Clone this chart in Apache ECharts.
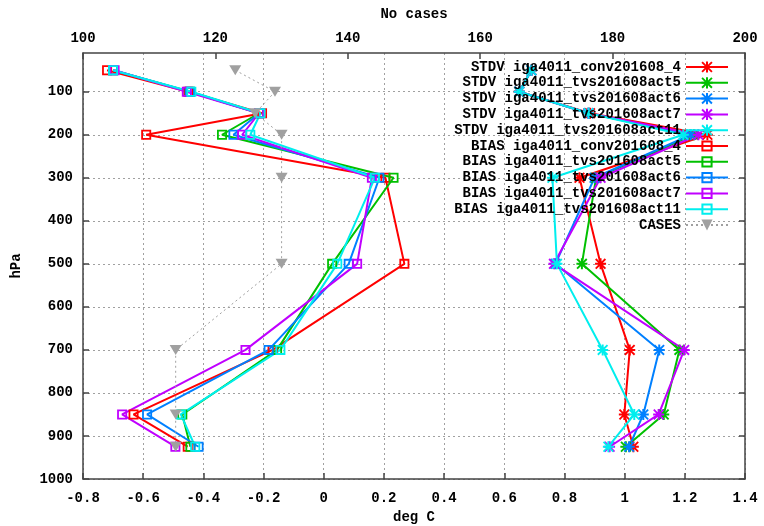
<!DOCTYPE html>
<html>
<head>
<meta charset="utf-8">
<script src="https://cdn.jsdelivr.net/npm/echarts@6/dist/echarts.min.js"></script>
<style>html,body{margin:0;padding:0;background:#fff}#c{width:764px;height:526px}</style>
</head>
<body>
<div id="c"></div>
<script>
// ---- data ----
const levels = [50, 100, 150, 200, 300, 500, 700, 850, 925];
const yTicks = [100, 200, 300, 400, 500, 600, 700, 800, 900, 1000];

const stdvConv4  = [0.69, 0.65, 0.885, 1.275, 0.85, 0.92, 1.017, 0.999, 1.029];
const stdvAct5   = [0.69, 0.65, 0.88, 1.23, 0.905, 0.858, 1.182, 1.13, 1.004];
const stdvAct6   = [0.69, 0.65, 0.88, 1.22, 0.90, 0.77, 1.115, 1.062, 1.015];
const stdvAct7   = [0.69, 0.65, 0.88, 1.245, 0.92, 0.765, 1.198, 1.113, 0.95];
const stdvAct11  = [0.69, 0.65, 0.88, 1.195, 0.76, 0.775, 0.927, 1.032, 0.946];

const biasConv4  = [-0.72, -0.45, -0.205, -0.59, 0.205, 0.268, -0.17, -0.632, -0.452];
const biasAct5   = [-0.70, -0.445, -0.215, -0.338, 0.232, 0.028, -0.155, -0.47, -0.443];
const biasAct6   = [-0.70, -0.445, -0.215, -0.30, 0.185, 0.083, -0.183, -0.587, -0.416];
const biasAct7   = [-0.695, -0.455, -0.215, -0.271, 0.16, 0.111, -0.26, -0.67, -0.493];
const biasAct11  = [-0.70, -0.44, -0.21, -0.244, 0.17, 0.045, -0.144, -0.475, -0.427];

const cases = [123, 129, 126, 130, 130, 130, 114, 114, 114];

const names = {
  stdv: ['STDV iga4011_conv201608_4', 'STDV iga4011_tvs201608act5', 'STDV iga4011_tvs201608act6', 'STDV iga4011_tvs201608act7', 'STDV iga4011_tvs201608act11'],
  bias: ['BIAS iga4011_conv201608_4', 'BIAS iga4011_tvs201608act5', 'BIAS iga4011_tvs201608act6', 'BIAS iga4011_tvs201608act7', 'BIAS iga4011_tvs201608act11'],
  cases: 'CASES'
};
const colors = ['#ff0000', '#00c000', '#0080ff', '#c000ff', '#00eeee'];
const casesColor = '#a0a0a0';

// ---- build ----
const FONT = 'Liberation Mono';
const star = 'path://M4.1,0H5.9V10H4.1Z M0,4.1H10V5.9H0Z M1.2,0L5,3.8L8.8,0L10,1.2L6.2,5L10,8.8L8.8,10L5,6.2L1.2,10L0,8.8L3.8,5L0,1.2Z';
const sq = 'path://M0,0H10V10H0Z M1.8,1.8V8.2H8.2V1.8Z';
const tri = 'path://M0,0H10L5,8.5Z';

function pairs(vals) { return vals.map((v, i) => [v, levels[i]]); }

const stdvVals = [stdvConv4, stdvAct5, stdvAct6, stdvAct7, stdvAct11];
const biasVals = [biasConv4, biasAct5, biasAct6, biasAct7, biasAct11];

const series = [];
stdvVals.forEach((vals, i) => series.push({
  name: names.stdv[i], type: 'line', xAxisIndex: 0, yAxisIndex: 0,
  data: pairs(vals), symbol: star, symbolSize: 11,
  lineStyle: { color: colors[i], width: 2 }, itemStyle: { color: colors[i] },
  animation: false
}));
biasVals.forEach((vals, i) => series.push({
  name: names.bias[i], type: 'line', xAxisIndex: 0, yAxisIndex: 0,
  data: pairs(vals), symbol: sq, symbolSize: 10,
  lineStyle: { color: colors[i], width: 2 }, itemStyle: { color: colors[i] },
  animation: false
}));
series.push({
  name: names.cases, type: 'line', xAxisIndex: 1, yAxisIndex: 0,
  data: cases.map((v, i) => [v, levels[i]]), symbol: tri, symbolSize: [12, 10],
  lineStyle: { color: casesColor, width: 1, type: [2, 3] }, itemStyle: { color: casesColor },
  animation: false
});

const labelStyle = { fontFamily: FONT, fontWeight: 'bold', fontSize: 14, color: '#000' };
const axisLineStyle = { color: '#444', width: 1.5 };
const gridLine = { show: true, lineStyle: { color: '#a0a0a0', width: 1, type: [2, 3] } };
const plain = v => String(v);

const option = {
  backgroundColor: '#fff',
  animation: false,
  grid: { left: 83, right: 19, top: 53, bottom: 47, containLabel: false, outerBoundsMode: 'none' },
  legend: {
    orient: 'vertical', right: 35, top: 60, align: 'right', padding: 0,
    itemWidth: 42, itemHeight: 14, itemGap: 1.8,
    textStyle: Object.assign({}, labelStyle, { lineHeight: 14 }),
    data: names.stdv.concat(names.bias, [names.cases])
  },
  xAxis: [
    {
      type: 'value', position: 'bottom', min: -0.8, max: 1.4, interval: 0.2,
      name: 'deg C', nameLocation: 'middle', nameGap: 31, nameTextStyle: labelStyle,
      axisLine: { show: true, onZero: false, lineStyle: axisLineStyle },
      axisTick: { show: true, inside: true, length: 6, lineStyle: axisLineStyle },
      axisLabel: Object.assign({ margin: 12, formatter: plain }, labelStyle),
      splitLine: gridLine
    },
    {
      type: 'value', position: 'top', min: 100, max: 200, interval: 20,
      name: 'No cases', nameLocation: 'middle', nameGap: 32, nameTextStyle: labelStyle,
      axisLine: { show: true, onZero: false, lineStyle: axisLineStyle },
      axisTick: { show: true, inside: true, length: 6, lineStyle: axisLineStyle },
      axisLabel: Object.assign({ margin: 8, formatter: plain }, labelStyle),
      splitLine: { show: false }
    }
  ],
  yAxis: [
    {
      type: 'value', position: 'left', inverse: true, min: 10, max: 1000,
      name: 'hPa', nameLocation: 'middle', nameGap: 60, nameRotate: 90, nameTextStyle: labelStyle,
      axisLine: { show: true, onZero: false, lineStyle: axisLineStyle },
      axisTick: { show: true, inside: true, length: 6, lineStyle: axisLineStyle, customValues: yTicks },
      axisLabel: Object.assign({ margin: 10, customValues: yTicks, formatter: plain }, labelStyle),
      splitLine: gridLine
    },
    {
      type: 'value', position: 'right', inverse: true, min: 10, max: 1000,
      axisLine: { show: true, onZero: false, lineStyle: axisLineStyle },
      axisTick: { show: true, inside: true, length: 6, lineStyle: axisLineStyle, customValues: yTicks },
      axisLabel: { show: false, customValues: yTicks },
      splitLine: { show: false }
    }
  ],
  series: series
};

const chart = echarts.init(document.getElementById('c'), null, { renderer: 'canvas' });
chart.setOption(option);
</script>
</body>
</html>
